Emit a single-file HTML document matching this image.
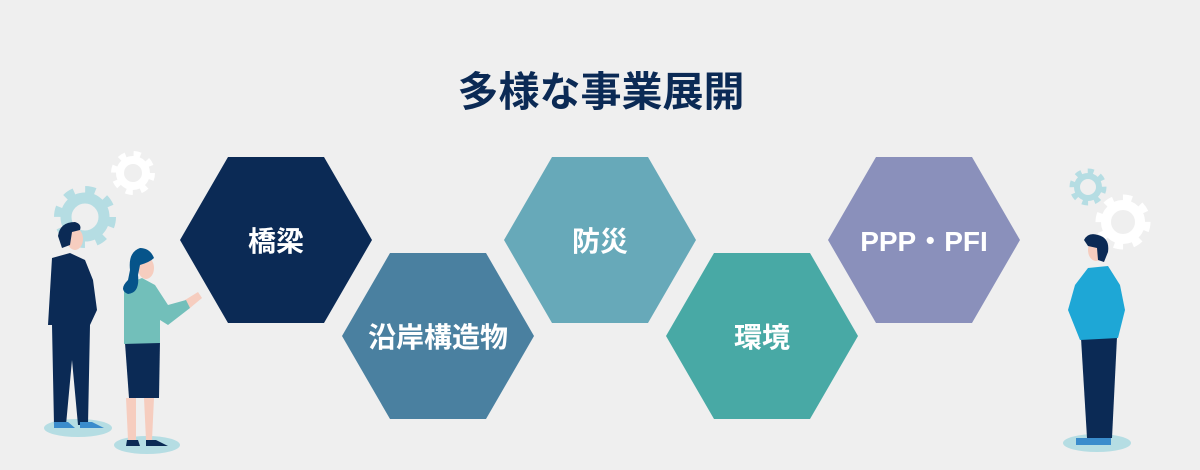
<!DOCTYPE html>
<html><head><meta charset="utf-8"><style>
html,body{margin:0;padding:0;background:#efefef;}
svg{display:block}
text{font-family:"Liberation Sans","Noto Sans CJK JP",sans-serif;font-weight:bold;}
</style></head><body>
<svg width="1200" height="470" viewBox="0 0 1200 470" xmlns="http://www.w3.org/2000/svg">
<rect width="1200" height="470" fill="#efefef"/>
<text x="601" y="106" text-anchor="middle" font-size="41" fill="#0b2a55">多様な事業展開</text>
<!-- hexagons -->
<polygon points="180,240 228,157 324,157 372,240 324,323 228,323" fill="#0b2a55"/>
<polygon points="342,336 390,253 486,253 534,336 486,419 390,419" fill="#4a80a0"/>
<polygon points="504,240 552,157 648,157 696,240 648,323 552,323" fill="#67a9b9"/>
<polygon points="666,336 714,253 810,253 858,336 810,419 714,419" fill="#48a9a5"/>
<polygon points="828,240 876,157 972,157 1020,240 972,323 876,323" fill="#8a90bb"/>
<g font-size="28" fill="#fff" text-anchor="middle">
<text x="276" y="251">橋梁</text>
<text x="438" y="347">沿岸構造物</text>
<text x="600" y="251">防災</text>
<text x="762" y="347">環境</text>
<text x="924" y="251">PPP・PFI</text>
</g>
<!-- gears -->
<g fill="none">
<circle cx="85" cy="217" r="19" stroke="#b5dde3" stroke-width="11"/>
<circle cx="85" cy="217" r="27" stroke="#b5dde3" stroke-width="8" stroke-dasharray="10 11.2"/>
<circle cx="133" cy="173" r="13" stroke="#fff" stroke-width="8"/>
<circle cx="133" cy="173" r="19" stroke="#fff" stroke-width="6" stroke-dasharray="7 8"/>
<circle cx="1088" cy="187" r="11" stroke="#b5dde3" stroke-width="6"/>
<circle cx="1088" cy="187" r="16" stroke="#b5dde3" stroke-width="5" stroke-dasharray="6 6.5"/>
<circle cx="1123" cy="222" r="17" stroke="#fff" stroke-width="10"/>
<circle cx="1123" cy="222" r="24" stroke="#fff" stroke-width="7" stroke-dasharray="9 9.8"/>
</g>
<!-- left man -->
<ellipse cx="78" cy="428" rx="34" ry="9" fill="#b5dde3"/>
<path d="M52,258 L70,253 L85,260 L93,280 L97,310 L90,325 L88,425 L78,425 L72,360 L66,425 L54,425 L52,325 L48,325 Z" fill="#0b2a55"/>
<path d="M54,422 L68,422 L75,428 L54,428Z M80,422 L92,422 L104,428 L80,428Z" fill="#3a8ccc"/>
<ellipse cx="75" cy="239" rx="8" ry="11" fill="#f6cdbf"/>
<path d="M58,236 Q60,222 75,222 Q82,224 80,230 L72,232 L70,245 L62,248 Z" fill="#0b2a55"/>
<!-- woman -->
<ellipse cx="147" cy="445" rx="33" ry="9" fill="#b5dde3"/>
<path d="M126,398 L136,398 L136,440 L128,440Z M144,398 L154,398 L152,440 L146,440Z" fill="#f6cdbf"/>
<path d="M127,440 L138,440 L140,446 L126,446Z M146,440 L156,440 L168,446 L146,446Z" fill="#0b2a55"/>
<path d="M125,343 L160,341 L159,398 L129,398Z" fill="#0b2a55"/>
<path d="M185,300 L198,292 L202,298 L190,308Z" fill="#f6cdbf"/>
<path d="M124,285 L142,278 L155,285 L168,305 L186,300 L190,308 L168,325 L160,320 L160,343 L124,344 Z" fill="#72bfba"/>
<ellipse cx="146" cy="268" rx="8" ry="11" fill="#f6cdbf"/>
<path d="M128,280 Q118,290 128,294 Q140,293 138,275 L140,265 Q150,262 154,258 Q150,248 140,248 Q128,252 130,270 Z" fill="#06548a"/>
<!-- right man -->
<ellipse cx="1097" cy="443" rx="34" ry="9" fill="#b5dde3"/>
<path d="M1081,338 L1117,337 L1112,438 L1087,438Z" fill="#0b2a55"/>
<path d="M1076,438 L1111,438 L1111,445 L1076,445Z" fill="#3a8ccc"/>
<path d="M1088,268 L1108,266 L1120,285 L1125,310 L1118,338 L1080,340 L1068,310 L1075,285Z" fill="#1ea7d6"/>
<ellipse cx="1096" cy="250" rx="8" ry="11" fill="#f6cdbf"/>
<path d="M1084,240 Q1088,232 1098,235 Q1110,238 1108,252 L1104,262 L1098,260 L1097,248 L1088,246 Z" fill="#0b2a55"/>
</svg>
</body></html>
